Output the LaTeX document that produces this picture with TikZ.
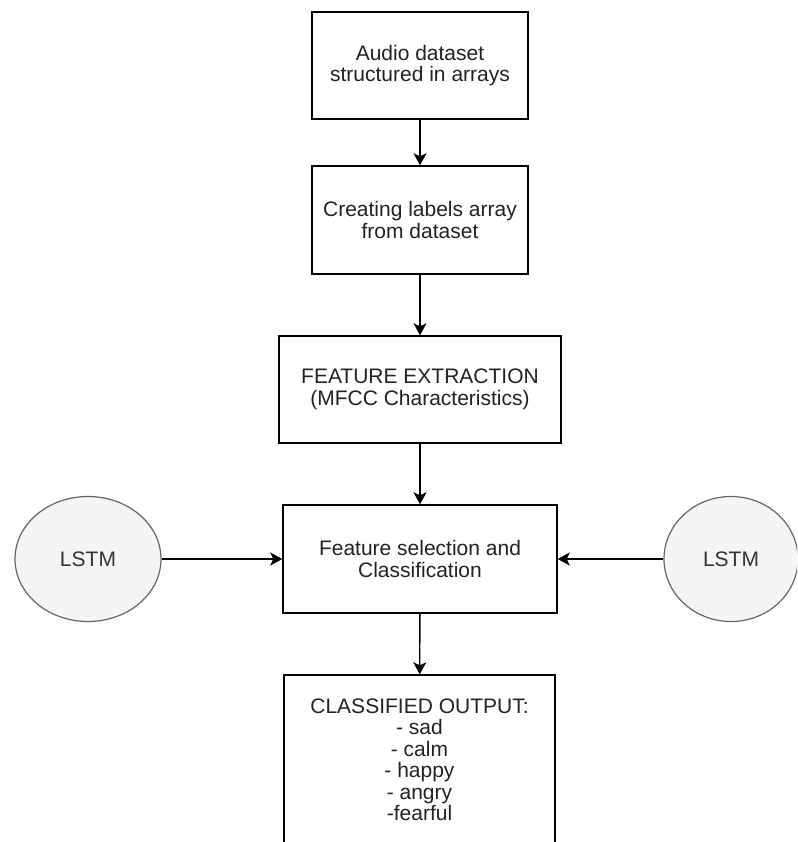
\documentclass[tikz,border=0pt]{standalone}
\usepackage{fontspec}
\setmainfont{Liberation Sans}
\usetikzlibrary{arrows.meta,shapes.geometric}
\definecolor{txt}{HTML}{222222}
\definecolor{ellfill}{HTML}{F5F5F5}
\definecolor{ellline}{HTML}{666666}
\definecolor{elltxt}{HTML}{333333}
\tikzset{
  box/.style={draw=black, line width=1.4pt, rectangle, align=center, text=txt,
    font=\fontsize{21}{21.5}\selectfont, inner sep=0pt},
  lstm/.style={draw=ellline, fill=ellfill, line width=1.2pt, ellipse, inner sep=0pt,
    text=elltxt, font=\fontsize{21}{21.5}\selectfont},
  conn/.style={draw=black, line width=1.4pt, -{Stealth[length=12pt,width=13pt,inset=3pt]}}
}
\begin{document}
\begin{tikzpicture}[x=1pt,y=-1pt]
\useasboundingbox (0,0) rectangle (797,842);
\clip (0,0) rectangle (797,842);
\node[box, minimum width=216pt, minimum height=107pt] (b1) at (420,65.5)
  {Audio dataset\\structured in arrays};
\node[box, minimum width=216pt, minimum height=108pt] (b2) at (420,220)
  {Creating labels array\\from dataset};
\node[box, minimum width=282pt, minimum height=107pt] (b3) at (420,389.5)
  {FEATURE EXTRACTION\\(MFCC Characteristics)};
\node[box, minimum width=274pt, minimum height=108pt] (b4) at (420,559)
  {Feature selection and\\Classification};
\node[box, minimum width=271pt, minimum height=170pt] (b5) at (419.5,760)
  {CLASSIFIED OUTPUT:\\- sad\\- calm\\- happy\\- angry\\-fearful};
\node[lstm, minimum width=146pt, minimum height=125pt] (l1) at (88,559) {LSTM};
\node[lstm, minimum width=134pt, minimum height=125pt] (l2) at (731,559) {LSTM};
\draw[conn] (b1) -- (b2);
\draw[conn] (b2) -- (b3);
\draw[conn] (b3) -- (b4);
\draw[conn] (b4) -- (b5);
\draw[conn] (l1) -- (b4);
\draw[conn] (l2) -- (b4);
\end{tikzpicture}
\end{document}
